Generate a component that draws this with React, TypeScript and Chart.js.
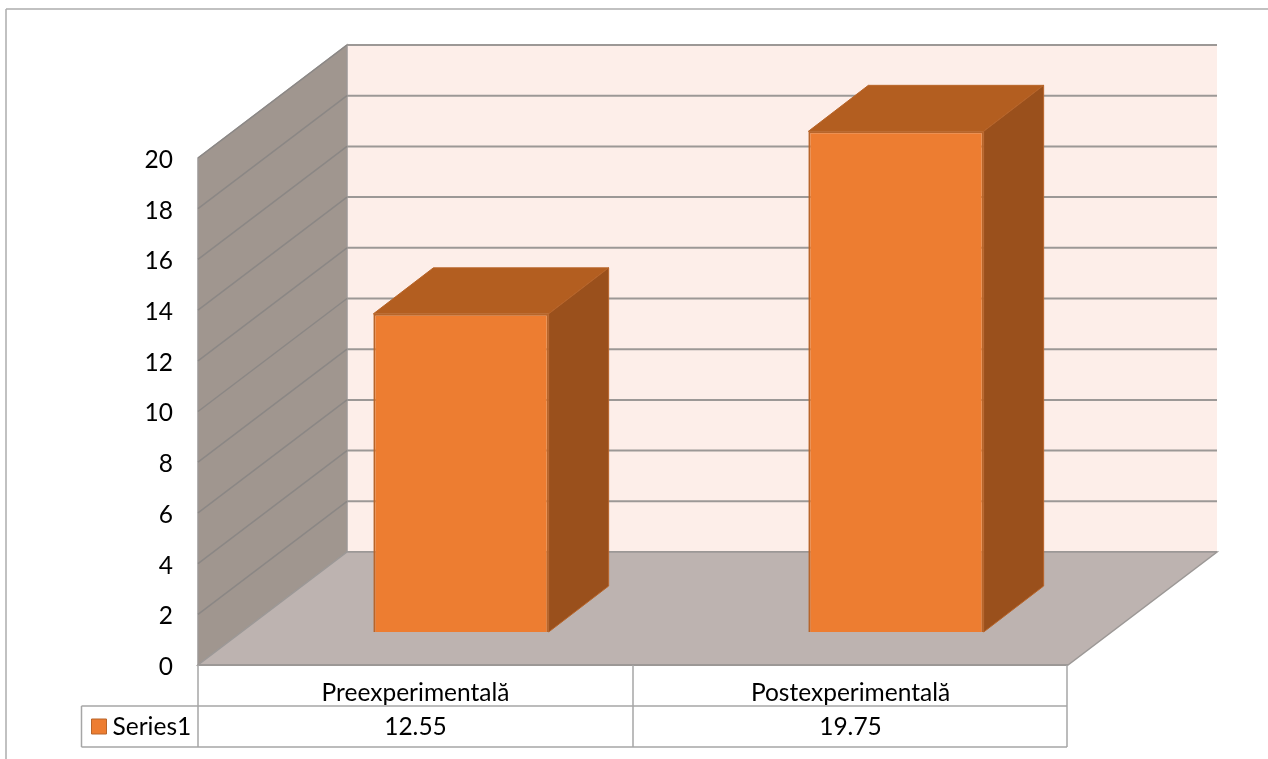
import React, { useEffect, useRef } from "react";
import { Chart, registerables } from "chart.js";

Chart.register(...registerables);

const categories = ["Preexperimentală", "Postexperimentală"];
const seriesName = "Series1";
const seriesValues = [12.55, 19.75];
const yTicks = [0, 2, 4, 6, 8, 10, 12, 14, 16, 18, 20];

const FONT = "Lato";
const FONT_SIZE = 24.5;
const Y_LABEL_NUDGE = 2;

const colors = {
  backWall: "#fdeee9",
  sideWall: "#a0968f",
  sideGrid: "#8b8785",
  floor: "#bdb3b0",
  grid: "#9c9896",
  tableLine: "#a6a6a6",
  barFront: "#ed7d31",
  barTop: "#b35e20",
  barSide: "#9a501c",
  barEdge: "#b8652a",
  frame: "#adadad",
  text: "#000000",
};

// Projection of the box: how far the back plane sits from the front plane,
// where the front of the bars sits, and how deep each bar is.
const WALL_DX = 149;
const WALL_DY = 113;
const BAR_DX = 45.5;
const BAR_DY = 33;
const BAR_DEPTH_DX = 60;
const BAR_DEPTH_DY = 46;

function polygon(ctx: CanvasRenderingContext2D, pts: number[][], fill: string, stroke?: string, lw = 1) {
  ctx.beginPath();
  pts.forEach(([x, y], i) => (i ? ctx.lineTo(x, y) : ctx.moveTo(x, y)));
  ctx.closePath();
  ctx.fillStyle = fill;
  ctx.fill();
  if (stroke) {
    ctx.strokeStyle = stroke;
    ctx.lineWidth = lw;
    ctx.stroke();
  }
}

function line(ctx: CanvasRenderingContext2D, x1: number, y1: number, x2: number, y2: number, color: string, lw: number) {
  ctx.beginPath();
  ctx.moveTo(x1, y1);
  ctx.lineTo(x2, y2);
  ctx.strokeStyle = color;
  ctx.lineWidth = lw;
  ctx.stroke();
}

const box3d = {
  id: "box3d",
  afterLayout(chart: any) {
    // Lato's digits sit a little high on the middle baseline, so lower the axis labels.
    const scale = chart.scales.y;
    if (scale.__nudged) return;
    scale.__nudged = true;
    const drawLabels = scale.drawLabels;
    scale.drawLabels = function (area: any) {
      this.ctx.save();
      this.ctx.translate(0, Y_LABEL_NUDGE);
      drawLabels.call(this, area);
      this.ctx.restore();
    };
  },
  beforeDatasetsDraw(chart: any) {
    const { ctx, scales } = chart;
    const { x, y } = scales;
    const L = x.left;
    const R = x.right;
    const y0 = y.getPixelForValue(yTicks[0]);
    const yTop = y.getPixelForValue(yTicks[yTicks.length - 1]);
    ctx.save();
    // back wall
    polygon(ctx, [[L + WALL_DX, yTop - WALL_DY], [R + WALL_DX, yTop - WALL_DY], [R + WALL_DX, y0 - WALL_DY], [L + WALL_DX, y0 - WALL_DY]], colors.backWall);
    // side wall
    polygon(ctx, [[L, yTop], [L + WALL_DX, yTop - WALL_DY], [L + WALL_DX, y0 - WALL_DY], [L, y0]], colors.sideWall, colors.grid, 1.5);
    // gridlines wrap from the side wall onto the back wall
    yTicks.forEach((t) => {
      const py = y.getPixelForValue(t);
      if (t > 0) line(ctx, L, py, L + WALL_DX, py - WALL_DY, colors.sideGrid, 1.5);
      line(ctx, L + WALL_DX, py - WALL_DY, R + WALL_DX, py - WALL_DY, colors.grid, 2);
    });
    // floor
    polygon(ctx, [[L, y0], [R, y0], [R + WALL_DX, y0 - WALL_DY], [L + WALL_DX, y0 - WALL_DY]], colors.floor, colors.grid, 1.5);
    line(ctx, L, y0, R, y0, colors.grid, 2);
    ctx.restore();

    // the front faces are drawn by the bar controller, pushed into the box
    ctx.save();
    ctx.translate(BAR_DX, -BAR_DY);
  },
  afterDatasetsDraw(chart: any) {
    const { ctx } = chart;
    ctx.restore();
    ctx.save();
    chart.getDatasetMeta(0).data.forEach((bar: any) => {
      const l = bar.x - bar.width / 2 + BAR_DX;
      const r = bar.x + bar.width / 2 + BAR_DX;
      const t = bar.y - BAR_DY;
      const b = bar.base - BAR_DY;
      polygon(ctx, [[l, t], [r, t], [r + BAR_DEPTH_DX, t - BAR_DEPTH_DY], [l + BAR_DEPTH_DX, t - BAR_DEPTH_DY]], colors.barTop, colors.barEdge, 1);
      polygon(ctx, [[r, t], [r + BAR_DEPTH_DX, t - BAR_DEPTH_DY], [r + BAR_DEPTH_DX, b - BAR_DEPTH_DY], [r, b]], colors.barSide, colors.barEdge, 1);
    });
    ctx.restore();
  },
  afterDraw(chart: any) {
    const { ctx, scales } = chart;
    const { x, y } = scales;
    const L = x.left;
    const R = x.right - 1;
    const y0 = y.getPixelForValue(yTicks[0]);
    const rowMid = y0 + 41;
    const rowEnd = y0 + 82;
    const keyLeft = L - 116.5;
    const divider = (x.getPixelForTick(0) + x.getPixelForTick(1)) / 2;
    ctx.save();
    // outer frame
    line(ctx, 6, 9, chart.width, 9, colors.frame, 1.5);
    line(ctx, 6, 9, 6, chart.height, colors.frame, 1.5);
    // data table rules
    line(ctx, keyLeft, rowMid, R, rowMid, colors.tableLine, 1.5);
    line(ctx, keyLeft, rowEnd, R, rowEnd, colors.tableLine, 1.5);
    line(ctx, keyLeft, rowMid, keyLeft, rowEnd, colors.tableLine, 1.5);
    [L, divider, R].forEach((vx) => line(ctx, vx, y0, vx, rowEnd, colors.tableLine, 1.5));
    // legend key and series row
    polygon(ctx, [[keyLeft + 10, rowMid + 13], [keyLeft + 25, rowMid + 13], [keyLeft + 25, rowMid + 28], [keyLeft + 10, rowMid + 28]], colors.barFront, colors.barEdge, 1);
    ctx.font = `${FONT_SIZE}px ${FONT}`;
    ctx.fillStyle = colors.text;
    ctx.textBaseline = "middle";
    ctx.textAlign = "left";
    ctx.fillText(seriesName, keyLeft + 31, rowMid + 21);
    ctx.textAlign = "center";
    seriesValues.forEach((v, i) => ctx.fillText(String(v), x.getPixelForTick(i), rowMid + 21));
    ctx.restore();
  },
};

export default function App() {
  const ref = useRef<HTMLCanvasElement>(null);
  useEffect(() => {
    const chart = new Chart(ref.current!, {
      type: "bar",
      data: {
        labels: categories,
        datasets: [
          {
            label: seriesName,
            data: seriesValues,
            backgroundColor: colors.barFront,
            borderColor: colors.barEdge,
            borderWidth: 2,
            barPercentage: 0.403,
            categoryPercentage: 1,
            clip: false,
          } as any,
        ],
      },
      options: {
        animation: false,
        responsive: false,
        layout: { padding: { left: 0, top: 158, right: 200, bottom: 0 } },
        plugins: { legend: { display: false }, title: { display: false }, tooltip: { enabled: false } },
        scales: {
          x: {
            grid: { display: false },
            border: { display: false },
            ticks: { color: colors.text, padding: 5, font: { family: FONT, size: FONT_SIZE }, maxRotation: 0 },
            afterFit: (s: any) => { s.height = 94; },
          },
          y: {
            min: yTicks[0],
            max: yTicks[yTicks.length - 1],
            grid: { display: false, drawTicks: false },
            border: { display: false },
            ticks: { stepSize: 2, color: colors.text, padding: 25, font: { family: FONT, size: FONT_SIZE } },
            afterFit: (s: any) => { s.width = 198; },
          },
        },
      },
      plugins: [box3d],
    });
    return () => chart.destroy();
  }, []);
  return (
    <div style={{ position: "absolute", left: 0, top: 0, width: 1268, height: 759, background: "#fff" }}>
      <canvas ref={ref} width={1268} height={759} style={{ display: "block" }} />
    </div>
  );
}
